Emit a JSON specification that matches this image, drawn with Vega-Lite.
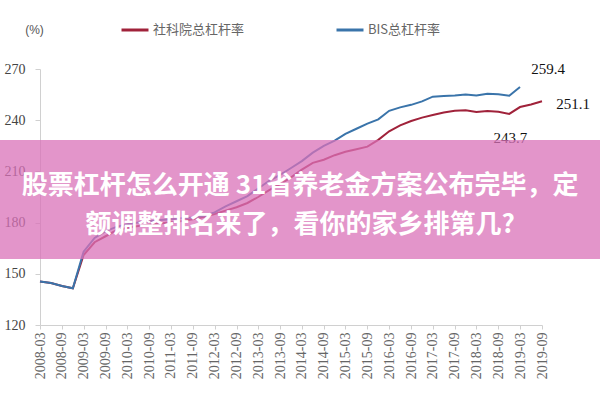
{
  "$schema": "https://vega.github.io/schema/vega-lite/v6.json",
  "width": 502,
  "height": 256,
  "autosize": {"type": "none"},
  "padding": {"left": 40, "top": 69, "right": 58, "bottom": 75},
  "background": "white",
  "config": {"view": {"stroke": null}, "font": "Liberation Serif", "axis": {"labelOverlap": false, "labelBound": false}},
  "datasets": {
    "main": [
      {"date": "2008-03-01", "s": "社科院总杠杆率", "v": 145.5},
      {"date": "2008-06-01", "s": "社科院总杠杆率", "v": 144.6},
      {"date": "2008-09-01", "s": "社科院总杠杆率", "v": 142.8},
      {"date": "2008-12-01", "s": "社科院总杠杆率", "v": 141.5},
      {"date": "2009-03-01", "s": "社科院总杠杆率", "v": 161.0},
      {"date": "2009-06-01", "s": "社科院总杠杆率", "v": 168.5},
      {"date": "2009-09-01", "s": "社科院总杠杆率", "v": 172.0},
      {"date": "2009-12-01", "s": "社科院总杠杆率", "v": 175.5},
      {"date": "2010-03-01", "s": "社科院总杠杆率", "v": 177.0},
      {"date": "2010-06-01", "s": "社科院总杠杆率", "v": 178.0},
      {"date": "2010-09-01", "s": "社科院总杠杆率", "v": 178.8},
      {"date": "2010-12-01", "s": "社科院总杠杆率", "v": 179.5},
      {"date": "2011-03-01", "s": "社科院总杠杆率", "v": 180.2},
      {"date": "2011-06-01", "s": "社科院总杠杆率", "v": 181.0},
      {"date": "2011-09-01", "s": "社科院总杠杆率", "v": 182.0},
      {"date": "2011-12-01", "s": "社科院总杠杆率", "v": 183.2},
      {"date": "2012-03-01", "s": "社科院总杠杆率", "v": 185.0},
      {"date": "2012-06-01", "s": "社科院总杠杆率", "v": 187.0},
      {"date": "2012-09-01", "s": "社科院总杠杆率", "v": 189.0},
      {"date": "2012-12-01", "s": "社科院总杠杆率", "v": 191.5},
      {"date": "2013-03-01", "s": "社科院总杠杆率", "v": 195.0},
      {"date": "2013-06-01", "s": "社科院总杠杆率", "v": 199.0},
      {"date": "2013-09-01", "s": "社科院总杠杆率", "v": 202.5},
      {"date": "2013-12-01", "s": "社科院总杠杆率", "v": 206.5},
      {"date": "2014-03-01", "s": "社科院总杠杆率", "v": 211.0},
      {"date": "2014-06-01", "s": "社科院总杠杆率", "v": 215.0},
      {"date": "2014-09-01", "s": "社科院总杠杆率", "v": 216.8},
      {"date": "2014-12-01", "s": "社科院总杠杆率", "v": 219.5},
      {"date": "2015-03-01", "s": "社科院总杠杆率", "v": 221.5},
      {"date": "2015-06-01", "s": "社科院总杠杆率", "v": 223.0},
      {"date": "2015-09-01", "s": "社科院总杠杆率", "v": 224.5},
      {"date": "2015-12-01", "s": "社科院总杠杆率", "v": 228.5},
      {"date": "2016-03-01", "s": "社科院总杠杆率", "v": 233.5},
      {"date": "2016-06-01", "s": "社科院总杠杆率", "v": 237.0},
      {"date": "2016-09-01", "s": "社科院总杠杆率", "v": 239.5},
      {"date": "2016-12-01", "s": "社科院总杠杆率", "v": 241.5},
      {"date": "2017-03-01", "s": "社科院总杠杆率", "v": 243.0},
      {"date": "2017-06-01", "s": "社科院总杠杆率", "v": 244.5},
      {"date": "2017-09-01", "s": "社科院总杠杆率", "v": 245.5},
      {"date": "2017-12-01", "s": "社科院总杠杆率", "v": 245.8},
      {"date": "2018-03-01", "s": "社科院总杠杆率", "v": 244.8},
      {"date": "2018-06-01", "s": "社科院总杠杆率", "v": 245.4},
      {"date": "2018-09-01", "s": "社科院总杠杆率", "v": 244.9},
      {"date": "2018-12-01", "s": "社科院总杠杆率", "v": 243.7},
      {"date": "2019-03-01", "s": "社科院总杠杆率", "v": 247.7},
      {"date": "2019-06-01", "s": "社科院总杠杆率", "v": 249.2},
      {"date": "2019-09-01", "s": "社科院总杠杆率", "v": 251.1},
      {"date": "2008-03-01", "s": "BIS总杠杆率", "v": 145.5},
      {"date": "2008-06-01", "s": "BIS总杠杆率", "v": 144.6},
      {"date": "2008-09-01", "s": "BIS总杠杆率", "v": 142.8},
      {"date": "2008-12-01", "s": "BIS总杠杆率", "v": 141.5},
      {"date": "2009-03-01", "s": "BIS总杠杆率", "v": 163.0},
      {"date": "2009-06-01", "s": "BIS总杠杆率", "v": 171.0},
      {"date": "2009-09-01", "s": "BIS总杠杆率", "v": 175.0},
      {"date": "2009-12-01", "s": "BIS总杠杆率", "v": 177.5},
      {"date": "2010-03-01", "s": "BIS总杠杆率", "v": 179.0},
      {"date": "2010-06-01", "s": "BIS总杠杆率", "v": 180.0},
      {"date": "2010-09-01", "s": "BIS总杠杆率", "v": 180.8},
      {"date": "2010-12-01", "s": "BIS总杠杆率", "v": 181.5},
      {"date": "2011-03-01", "s": "BIS总杠杆率", "v": 182.0},
      {"date": "2011-06-01", "s": "BIS总杠杆率", "v": 182.5},
      {"date": "2011-09-01", "s": "BIS总杠杆率", "v": 183.0},
      {"date": "2011-12-01", "s": "BIS总杠杆率", "v": 184.0},
      {"date": "2012-03-01", "s": "BIS总杠杆率", "v": 186.0},
      {"date": "2012-06-01", "s": "BIS总杠杆率", "v": 189.5},
      {"date": "2012-09-01", "s": "BIS总杠杆率", "v": 192.5},
      {"date": "2012-12-01", "s": "BIS总杠杆率", "v": 195.5},
      {"date": "2013-03-01", "s": "BIS总杠杆率", "v": 200.0},
      {"date": "2013-06-01", "s": "BIS总杠杆率", "v": 204.5},
      {"date": "2013-09-01", "s": "BIS总杠杆率", "v": 208.0},
      {"date": "2013-12-01", "s": "BIS总杠杆率", "v": 212.0},
      {"date": "2014-03-01", "s": "BIS总杠杆率", "v": 216.0},
      {"date": "2014-06-01", "s": "BIS总杠杆率", "v": 221.0},
      {"date": "2014-09-01", "s": "BIS总杠杆率", "v": 225.0},
      {"date": "2014-12-01", "s": "BIS总杠杆率", "v": 228.0},
      {"date": "2015-03-01", "s": "BIS总杠杆率", "v": 232.0},
      {"date": "2015-06-01", "s": "BIS总杠杆率", "v": 235.0},
      {"date": "2015-09-01", "s": "BIS总杠杆率", "v": 238.0},
      {"date": "2015-12-01", "s": "BIS总杠杆率", "v": 240.5},
      {"date": "2016-03-01", "s": "BIS总杠杆率", "v": 245.5},
      {"date": "2016-06-01", "s": "BIS总杠杆率", "v": 247.5},
      {"date": "2016-09-01", "s": "BIS总杠杆率", "v": 249.0},
      {"date": "2016-12-01", "s": "BIS总杠杆率", "v": 251.0},
      {"date": "2017-03-01", "s": "BIS总杠杆率", "v": 253.8},
      {"date": "2017-06-01", "s": "BIS总杠杆率", "v": 254.2},
      {"date": "2017-09-01", "s": "BIS总杠杆率", "v": 254.5},
      {"date": "2017-12-01", "s": "BIS总杠杆率", "v": 255.0},
      {"date": "2018-03-01", "s": "BIS总杠杆率", "v": 254.5},
      {"date": "2018-06-01", "s": "BIS总杠杆率", "v": 255.5},
      {"date": "2018-09-01", "s": "BIS总杠杆率", "v": 255.2},
      {"date": "2018-12-01", "s": "BIS总杠杆率", "v": 254.3},
      {"date": "2019-03-01", "s": "BIS总杠杆率", "v": 259.4}
    ],
    "banner": [
      {"x1": "2007-03-20", "x2": "2021-01-10", "y1": 228.4, "y2": 158.7, "xc": "2014-02-15", "yc": 201.7}
    ]
  },
  "layer": [
    {
      "data": {"name": "main"},
      "transform": [{"filter": "datum.s === '社科院总杠杆率'"}],
      "mark": {"type": "line", "strokeWidth": 2},
      "encoding": {
        "x": {
          "field": "date",
          "type": "temporal",
          "scale": {"type": "utc", "domain": [1204329600000, 1567296000000]},
          "axis": {
            "title": null,
            "grid": false,
            "tickCount": 60,
            "values": [1204329600000, 1220227200000, 1235865600000, 1251763200000, 1267401600000, 1283299200000, 1298937600000, 1314835200000, 1330560000000, 1346457600000, 1362096000000, 1377993600000, 1393632000000, 1409529600000, 1425168000000, 1441065600000, 1456790400000, 1472688000000, 1488326400000, 1504224000000, 1519862400000, 1535760000000, 1551398400000, 1567296000000],
            "labelExpr": "utcFormat(datum.value, '%Y-%m')",
            "labelAngle": 270,
            "labelFont": "Liberation Serif",
            "labelFontSize": 14,
            "labelColor": "#666666",
            "labelOverlap": false,
            "labelFlush": false,
            "labelPadding": 3,
            "domainColor": "#d0d0d0",
            "tickColor": "#d0d0d0",
            "tickSize": 4
          }
        },
        "y": {
          "field": "v",
          "type": "quantitative",
          "scale": {"domain": [120, 270], "nice": false, "zero": false},
          "axis": {
            "values": [120, 150, 180, 210, 240, 270],
            "grid": false,
            "labelFont": "Liberation Serif",
            "labelFontSize": 14,
            "labelColor": "#444444",
            "labelPadding": 10,
            "domainColor": "#d0d0d0",
            "tickColor": "#d0d0d0",
            "tickSize": 5,
            "title": "(%)",
            "titleAngle": 0,
            "titleX": -6,
            "titleY": -40,
            "titleAlign": "center",
            "titleBaseline": "middle",
            "titleFont": "Liberation Sans",
            "titleFontSize": 12,
            "titleFontWeight": "normal",
            "titleColor": "#555555"
          }
        },
        "color": {
          "field": "s",
          "type": "nominal",
          "scale": {"domain": ["社科院总杠杆率", "BIS总杠杆率"], "range": ["#a0223a", "#3a74aa"]},
          "legend": {
            "orient": "none",
            "legendX": 80,
            "legendY": -54,
            "direction": "horizontal",
            "title": null,
            "symbolType": "stroke",
            "symbolSize": 729,
            "symbolStrokeWidth": 3,
            "labelFont": "Noto Sans CJK SC",
            "labelFontSize": 13,
            "labelColor": "#666666",
            "labelOffset": 3,
            "columnPadding": 85
          }
        }
      }
    },
    {
      "data": {"name": "main"},
      "transform": [{"filter": "datum.s === 'BIS总杠杆率'"}],
      "mark": {"type": "line", "strokeWidth": 2},
      "encoding": {
        "x": {"field": "date", "type": "temporal"},
        "y": {"field": "v", "type": "quantitative"},
        "color": {"field": "s", "type": "nominal"}
      }
    },
    {
      "data": {"name": "main"},
      "transform": [{"filter": "datum.s === 'BIS总杠杆率' && datum.v === 259.4"}],
      "mark": {"type": "text", "dx": 28, "dy": -18, "font": "Liberation Serif", "fontSize": 15, "color": "#111111"},
      "encoding": {
        "x": {"field": "date", "type": "temporal"},
        "y": {"field": "v", "type": "quantitative"},
        "text": {"field": "v", "type": "quantitative", "format": ".1f"}
      }
    },
    {
      "data": {"name": "main"},
      "transform": [{"filter": "datum.s === '社科院总杠杆率' && datum.v === 251.1"}],
      "mark": {"type": "text", "dx": 31, "dy": 3, "font": "Liberation Serif", "fontSize": 15, "color": "#111111"},
      "encoding": {
        "x": {"field": "date", "type": "temporal"},
        "y": {"field": "v", "type": "quantitative"},
        "text": {"field": "v", "type": "quantitative", "format": ".1f"}
      }
    },
    {
      "data": {"name": "main"},
      "transform": [{"filter": "datum.s === '社科院总杠杆率' && datum.v === 243.7"}],
      "mark": {"type": "text", "dx": 1, "dy": 24, "font": "Liberation Serif", "fontSize": 15, "color": "#111111"},
      "encoding": {
        "x": {"field": "date", "type": "temporal"},
        "y": {"field": "v", "type": "quantitative"},
        "text": {"field": "v", "type": "quantitative", "format": ".1f"}
      }
    },
    {
      "data": {"name": "banner"},
      "mark": {"type": "rect", "fill": "#da72b8", "opacity": 0.75, "clip": false},
      "encoding": {
        "x": {"field": "x1", "type": "temporal"},
        "x2": {"field": "x2"},
        "y": {"field": "y1", "type": "quantitative"},
        "y2": {"field": "y2"}
      }
    },
    {
      "data": {"name": "banner"},
      "mark": {
        "type": "text",
        "text": ["股票杠杆怎么开通 31省养老金方案公布完毕，定", "额调整排名来了，看你的家乡排第几?"],
        "font": "Noto Sans CJK SC",
        "fontWeight": "bold",
        "fontSize": 26,
        "lineHeight": 39,
        "color": "white",
        "align": "center",
        "baseline": "middle",
        "clip": false
      },
      "encoding": {
        "x": {"field": "xc", "type": "temporal"},
        "y": {"field": "yc", "type": "quantitative"}
      }
    }
  ]
}
